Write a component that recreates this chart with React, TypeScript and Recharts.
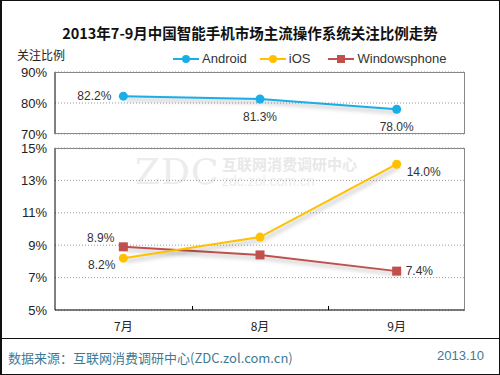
import { LineChart, Line, XAxis, YAxis, CartesianGrid, LabelList } from 'recharts'

const months = ['7月', '8月', '9月']
const android = [82.2, 81.3, 78.0]
const ios = [8.2, 9.5, 14.0]
const windowsphone = [8.9, 8.4, 7.4]
const topTicks = [70, 80, 90]
const bottomTicks = [5, 7, 9, 11, 13, 15]

const series = [
  { key: 'android', name: 'Android', color: '#1aaee6', marker: 'circle' },
  { key: 'ios', name: 'iOS', color: '#ffc000', marker: 'circle' },
  { key: 'windowsphone', name: 'Windowsphone', color: '#c0504d', marker: 'square' },
]

// where each point's value label sits (null = no label)
const androidLabels = ['left', 'below', 'below']
const iosLabels = ['leftBelow', null, 'rightBelow']
const wpLabels = ['leftAbove', null, 'right']

const topData = months.map((m, i) => ({ month: m, android: android[i] }))
const bottomData = months.map((m, i) => ({ month: m, ios: ios[i], windowsphone: windowsphone[i] }))

const FONT = '"Liberation Sans", Arial, "Noto Sans CJK SC", sans-serif'
const CJK = '"Noto Sans CJK SC", "Liberation Sans", sans-serif'

const offsets: Record<string, { dx: number; dy: number; anchor: 'start' | 'middle' | 'end' }> = {
  left: { dx: -12, dy: 4, anchor: 'end' },
  below: { dx: 0, dy: 22, anchor: 'middle' },
  leftBelow: { dx: -8, dy: 11, anchor: 'end' },
  leftAbove: { dx: -9, dy: -5, anchor: 'end' },
  rightBelow: { dx: 10, dy: 12, anchor: 'start' },
  right: { dx: 9, dy: 4, anchor: 'start' },
}

const labelRenderer = (places: (string | null)[], values: number[]) => (props: any) => {
  const { x, y, value } = props
  let idx = props.index
  if (idx === undefined) idx = values.indexOf(Number(value))
  const place = places[idx]
  if (!place) return null
  const o = offsets[place]
  return (
    <text x={x + o.dx} y={y + o.dy} textAnchor={o.anchor} fontSize={12} fill="#333" fontFamily={FONT}>
      {Number(value).toFixed(1)}%
    </text>
  )
}

const squareDot = (color: string) => (p: any) => (
  <rect key={`sq-${p.index}`} x={p.cx - 4.5} y={p.cy - 4.5} width={9} height={9} fill={color} />
)

const PLOT_L = 55
const PLOT_R = 465
const PAD = (PLOT_R - PLOT_L) / months.length / 2
const tickStyle = { fontSize: 13, fill: '#222', fontFamily: FONT }

function LegendRow() {
  return (
    <div style={{ position: 'absolute', left: 173, top: 51, display: 'flex', alignItems: 'center', fontFamily: FONT, fontSize: 13, color: '#333' }}>
      {series.map((s, i) => (
        <div key={s.key} style={{ display: 'flex', alignItems: 'center', marginRight: i === 0 ? 13 : 18 }}>
          <svg width={26} height={12} style={{ marginRight: 3 }}>
            <line x1={0} y1={6} x2={26} y2={6} stroke={s.color} strokeWidth={2} />
            {s.marker === 'circle'
              ? <circle cx={13} cy={6} r={4} fill={s.color} />
              : <rect x={9} y={2} width={8} height={8} fill={s.color} />}
          </svg>
          <span>{s.name}</span>
        </div>
      ))}
    </div>
  )
}

export default function App() {
  return (
    <div style={{ position: 'absolute', left: 0, top: 0, width: 500, height: 375, background: '#fff', overflow: 'hidden' }}>
      <style>{`.shadowed .recharts-line-curve, .shadowed .recharts-line-dots { filter: drop-shadow(2px 3px 2px rgba(0,0,0,0.3)); }`}</style>
      <div style={{ position: 'absolute', inset: 0, border: '1px solid #111', borderLeftWidth: 2, boxSizing: 'border-box', zIndex: 5, pointerEvents: 'none' }} />

      <div style={{ position: 'absolute', left: 0, width: 500, top: 22, textAlign: 'center', fontFamily: CJK, fontWeight: 'bold', fontSize: 14.5, color: '#111' }}>
        2013年7-9月中国智能手机市场主流操作系统关注比例走势
      </div>
      <div style={{ position: 'absolute', left: 17, top: 46, fontFamily: CJK, fontSize: 12, color: '#222' }}>关注比例</div>
      <LegendRow />

      {/* watermark */}
      <div style={{ position: 'absolute', left: 135, top: 154, lineHeight: 1, fontFamily: '"DejaVu Serif", serif', fontSize: 36, color: '#ececec', letterSpacing: 1 }}>ZDC</div>
      <div style={{ position: 'absolute', left: 222, top: 156, lineHeight: 1, fontFamily: CJK, fontWeight: 'bold', fontSize: 15, color: '#e8e8e8' }}>互联网消费调研中心</div>
      <div style={{ position: 'absolute', left: 222, top: 174, lineHeight: 1, fontFamily: FONT, fontSize: 14, color: '#ececec' }}>zdc.zol.com.cn</div>

      <div style={{ position: 'absolute', left: 0, top: 0 }}>
        <LineChart width={500} height={145} data={topData} margin={{ top: 72, right: 500 - PLOT_R, bottom: 11, left: 0 }}>
          <CartesianGrid vertical={false} stroke="#999" strokeDasharray="1 2" />
          <XAxis dataKey="month" hide padding={{ left: PAD, right: PAD }} />
          <YAxis width={PLOT_L} domain={[70, 90]} ticks={topTicks} tickFormatter={(v) => `${v}%`} tick={tickStyle} tickLine={false} axisLine={{ stroke: '#000' }} />
          <Line className="shadowed" dataKey="android" stroke={series[0].color} strokeWidth={2} dot={{ r: 4.5, fill: series[0].color, stroke: series[0].color, strokeWidth: 0 }} isAnimationActive={false}>
            <LabelList dataKey="android" content={labelRenderer(androidLabels, android)} />
          </Line>
        </LineChart>
      </div>
      <div style={{ position: 'absolute', left: PLOT_L, top: 72, width: PLOT_R - PLOT_L, height: 62, borderTop: '1px solid #888', borderRight: '1px solid #888', borderBottom: '1px solid #888', boxSizing: 'border-box', pointerEvents: 'none' }} />

      <div style={{ position: 'absolute', left: 0, top: 135 }}>
        <LineChart width={500} height={205} data={bottomData} margin={{ top: 13, right: 500 - PLOT_R, bottom: 0, left: 0 }}>
          <CartesianGrid vertical={false} stroke="#999" strokeDasharray="1 2" />
          <XAxis dataKey="month" height={30} padding={{ left: PAD, right: PAD }} tick={{ ...tickStyle, fontFamily: CJK, fontSize: 12 }} tickLine={false} tickMargin={6} axisLine={{ stroke: '#000' }} />
          <YAxis width={PLOT_L} domain={[5, 15]} ticks={bottomTicks} tickFormatter={(v) => `${v}%`} tick={tickStyle} tickLine={false} axisLine={{ stroke: '#000' }} />
          <Line className="shadowed" dataKey="windowsphone" stroke={series[2].color} strokeWidth={2} dot={squareDot(series[2].color)} isAnimationActive={false}>
            <LabelList dataKey="windowsphone" content={labelRenderer(wpLabels, windowsphone)} />
          </Line>
          <Line className="shadowed" dataKey="ios" stroke={series[1].color} strokeWidth={2} dot={{ r: 4.5, fill: series[1].color, stroke: series[1].color, strokeWidth: 0 }} isAnimationActive={false}>
            <LabelList dataKey="ios" content={labelRenderer(iosLabels, ios)} />
          </Line>
        </LineChart>
      </div>
      <div style={{ position: 'absolute', left: PLOT_L, top: 148, width: PLOT_R - PLOT_L, height: 162, borderTop: '1px solid #888', borderRight: '1px solid #888', boxSizing: 'border-box', pointerEvents: 'none' }} />
      {[1, 2].map((k) => (
        <div key={k} style={{ position: 'absolute', left: PLOT_L + ((PLOT_R - PLOT_L) * k) / months.length, top: 306, width: 1, height: 4, background: '#000' }} />
      ))}

      <div style={{ position: 'absolute', left: 0, top: 338, width: 500, height: 1, background: '#111' }} />
      <div style={{ position: 'absolute', left: 8, top: 348, fontFamily: CJK, fontSize: 13, color: '#3f7a94' }}>
        数据来源：互联网消费调研中心(ZDC.zol.com.cn)
      </div>
      <div style={{ position: 'absolute', right: 16, top: 348, fontFamily: FONT, fontSize: 13, color: '#3f7a94' }}>2013.10</div>
    </div>
  )
}
